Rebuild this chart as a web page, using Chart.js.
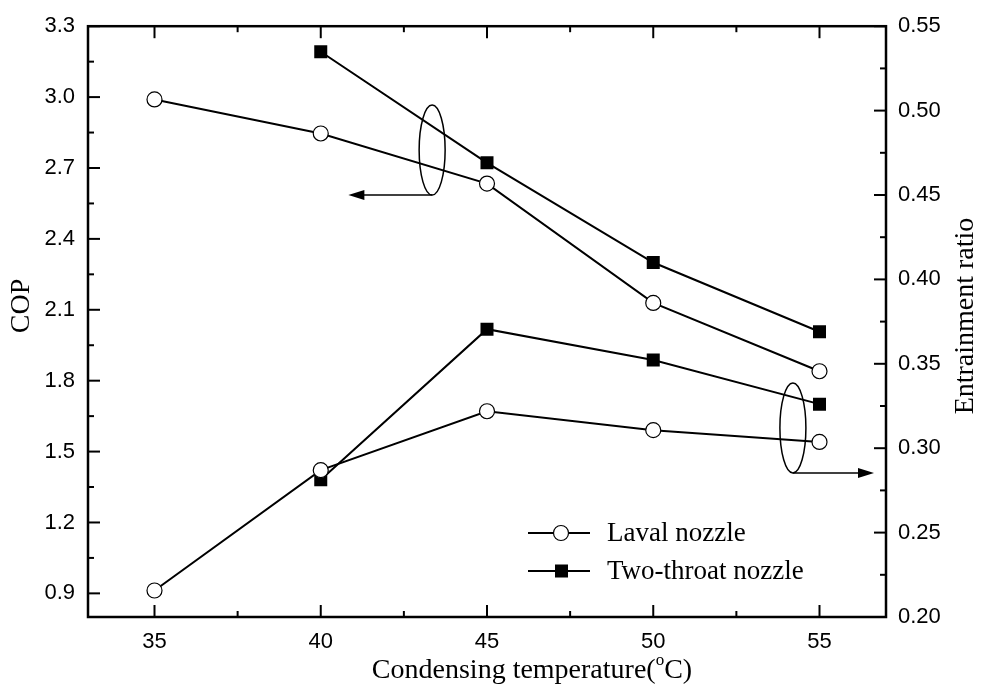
<!DOCTYPE html>
<html>
<head>
<meta charset="utf-8">
<script src="https://cdn.jsdelivr.net/npm/chart.js@4.4.0/dist/chart.umd.min.js"></script>
<style>
  html, body { margin: 0; padding: 0; background: #fff; }
  #wrap { width: 988px; height: 688px; }
</style>
</head>
<body>
<div id="wrap"><canvas id="myChart"></canvas></div>
<script>
// data
const temps = [35, 40, 45, 50, 55];
const copLaval = [2.99, 2.846, 2.634, 2.129, 1.84];
const copTwoThroat = [null, 3.192, 2.722, 2.30, 2.007];
const erLaval = [0.2157, 0.287, 0.3219, 0.3107, 0.3037];
const erTwoThroat = [null, 0.2813, 0.3705, 0.3523, 0.3261];

const xTicks = [35, 40, 45, 50, 55];
const copTicks = [0.9, 1.2, 1.5, 1.8, 2.1, 2.4, 2.7, 3.0, 3.3];
const erTicks = [0.20, 0.25, 0.30, 0.35, 0.40, 0.45, 0.50, 0.55];

function pts(arr) {
  return temps.map((t, i) => ({ x: t, y: arr[i] })).filter(p => p.y !== null);
}

const tickFont = { family: 'Liberation Sans', size: 22 };
const serif = 'Liberation Serif';

// frame, inward ticks, titles, legend and the two ellipse markers
const decor = {
  id: 'decor',
  afterDraw(chart) {
    const { ctx, chartArea: a } = chart;
    const x = chart.scales.x, yl = chart.scales.y, yr = chart.scales.y1;
    ctx.save();
    ctx.strokeStyle = '#000';
    ctx.fillStyle = '#000';
    ctx.lineWidth = 2.5;
    ctx.strokeRect(a.left, a.top, a.right - a.left, a.bottom - a.top);

    ctx.lineWidth = 2;
    function hline(px, py, len) { ctx.beginPath(); ctx.moveTo(px, py); ctx.lineTo(px + len, py); ctx.stroke(); }
    function vline(px, py, len) { ctx.beginPath(); ctx.moveTo(px, py); ctx.lineTo(px, py + len); ctx.stroke(); }

    // x ticks (bottom and top)
    xTicks.forEach((v, i) => {
      const px = x.getPixelForValue(v);
      vline(px, a.bottom, -12); vline(px, a.top, 12);
      if (i < xTicks.length - 1) {
        const m = x.getPixelForValue((v + xTicks[i + 1]) / 2);
        vline(m, a.bottom, -6); vline(m, a.top, 6);
      }
    });
    // left ticks
    copTicks.forEach((v, i) => {
      const py = yl.getPixelForValue(v);
      hline(a.left, py, 12);
      if (i < copTicks.length - 1) hline(a.left, yl.getPixelForValue((v + copTicks[i + 1]) / 2), 6);
    });
    // right ticks
    erTicks.forEach((v, i) => {
      const py = yr.getPixelForValue(v);
      hline(a.right, py, -12);
      if (i < erTicks.length - 1) hline(a.right, yr.getPixelForValue((v + erTicks[i + 1]) / 2), -6);
    });

    // titles
    ctx.textBaseline = 'middle';
    ctx.font = '28px ' + serif;
    const t1 = 'Condensing temperature(', t2 = 'C)';
    const w1 = ctx.measureText(t1).width, w2 = ctx.measureText(t2).width;
    ctx.font = '17px ' + serif;
    const wo = ctx.measureText('o').width;
    const total = w1 + wo + w2;
    const sx = 532 - total / 2;
    const ty = 671;
    ctx.textAlign = 'left';
    ctx.font = '28px ' + serif;
    ctx.fillText(t1, sx, ty);
    ctx.font = '17px ' + serif;
    ctx.fillText('o', sx + w1, ty - 10);
    ctx.font = '28px ' + serif;
    ctx.fillText(t2, sx + w1 + wo, ty);

    ctx.textAlign = 'center';
    ctx.save();
    ctx.translate(22, 306);
    ctx.rotate(-Math.PI / 2);
    ctx.fillText('COP', 0, 0);
    ctx.restore();
    ctx.save();
    ctx.translate(966, 316);
    ctx.rotate(-Math.PI / 2);
    ctx.fillText('Entrainment ratio', 0, 0);
    ctx.restore();

    // legend
    ctx.font = '27px ' + serif;
    ctx.textAlign = 'left';
    const rows = [{ y: 533, label: 'Laval nozzle', sq: false }, { y: 571, label: 'Two-throat nozzle', sq: true }];
    rows.forEach(r => {
      ctx.lineWidth = 2;
      ctx.beginPath(); ctx.moveTo(528, r.y); ctx.lineTo(590, r.y); ctx.stroke();
      if (r.sq) {
        ctx.fillRect(555, r.y - 6.5, 13, 13);
      } else {
        ctx.beginPath(); ctx.arc(561, r.y, 7.5, 0, Math.PI * 2);
        ctx.fillStyle = '#fff'; ctx.fill(); ctx.fillStyle = '#000';
        ctx.lineWidth = 1.2; ctx.stroke();
      }
      ctx.fillText(r.label, 607, r.y + 1);
    });

    // ellipse + arrow markers
    function marker(cxVal, cyPx, tipVal) {
      const cx = x.getPixelForValue(cxVal);
      ctx.lineWidth = 1.5;
      ctx.beginPath();
      ctx.ellipse(cx, cyPx, 13, 45, 0, 0, Math.PI * 2);
      ctx.stroke();
      const tip = x.getPixelForValue(tipVal);
      const by = cyPx + 45;
      const dir = tip < cx ? -1 : 1;
      ctx.beginPath(); ctx.moveTo(cx, by); ctx.lineTo(tip - dir * 14, by); ctx.stroke();
      ctx.beginPath();
      ctx.moveTo(tip, by);
      ctx.lineTo(tip - dir * 16, by - 5);
      ctx.lineTo(tip - dir * 16, by + 5);
      ctx.closePath(); ctx.fill();
    }
    marker(43.35, yl.getPixelForValue(2.776), 40.83);
    marker(54.2, yr.getPixelForValue(0.312), 56.64);

    ctx.restore();
  }
};

function lineSet(label, data, axis, square) {
  return {
    label: label,
    data: data,
    yAxisID: axis,
    borderColor: '#000',
    borderWidth: 2,
    backgroundColor: square ? '#000' : '#fff',
    pointStyle: square ? 'rect' : 'circle',
    pointRadius: square ? 9.2 : 7.5,
    pointBorderWidth: square ? 0 : 1.2,
    pointBorderColor: '#000',
    tension: 0,
    fill: false
  };
}

const ctx = document.getElementById('myChart');
new Chart(ctx, {
  type: 'line',
  data: {
    datasets: [
      lineSet('Laval nozzle', pts(copLaval), 'y', false),
      lineSet('Two-throat nozzle', pts(copTwoThroat), 'y', true),
      lineSet('Laval nozzle ER', pts(erLaval), 'y1', false),
      lineSet('Two-throat nozzle ER', pts(erTwoThroat), 'y1', true)
    ]
  },
  options: {
    responsive: true,
    maintainAspectRatio: false,
    animation: false,
    layout: { padding: { top: 19, left: 0, right: 0, bottom: 0 } },
    plugins: { legend: { display: false }, tooltip: { enabled: false } },
    scales: {
      x: {
        type: 'linear',
        min: 33, max: 57,
        grid: { display: false, drawTicks: false },
        border: { display: false },
        afterBuildTicks: s => { s.ticks = xTicks.map(v => ({ value: v })); },
        afterFit: s => { s.height = 71; },
        ticks: { color: '#000', font: tickFont, padding: 12, maxRotation: 0 }
      },
      y: {
        position: 'left',
        min: 0.8, max: 3.3,
        grid: { display: false, drawTicks: false },
        border: { display: false },
        afterBuildTicks: s => { s.ticks = copTicks.map(v => ({ value: v })); },
        afterFit: s => { s.width = 88; },
        ticks: { color: '#000', font: tickFont, padding: 13, callback: v => v.toFixed(1) }
      },
      y1: {
        position: 'right',
        min: 0.20, max: 0.55,
        grid: { display: false, drawTicks: false },
        border: { display: false },
        afterBuildTicks: s => { s.ticks = erTicks.map(v => ({ value: v })); },
        afterFit: s => { s.width = 102; },
        ticks: { color: '#000', font: tickFont, padding: 12, callback: v => v.toFixed(2) }
      }
    }
  },
  plugins: [decor]
});
</script>
</body>
</html>
